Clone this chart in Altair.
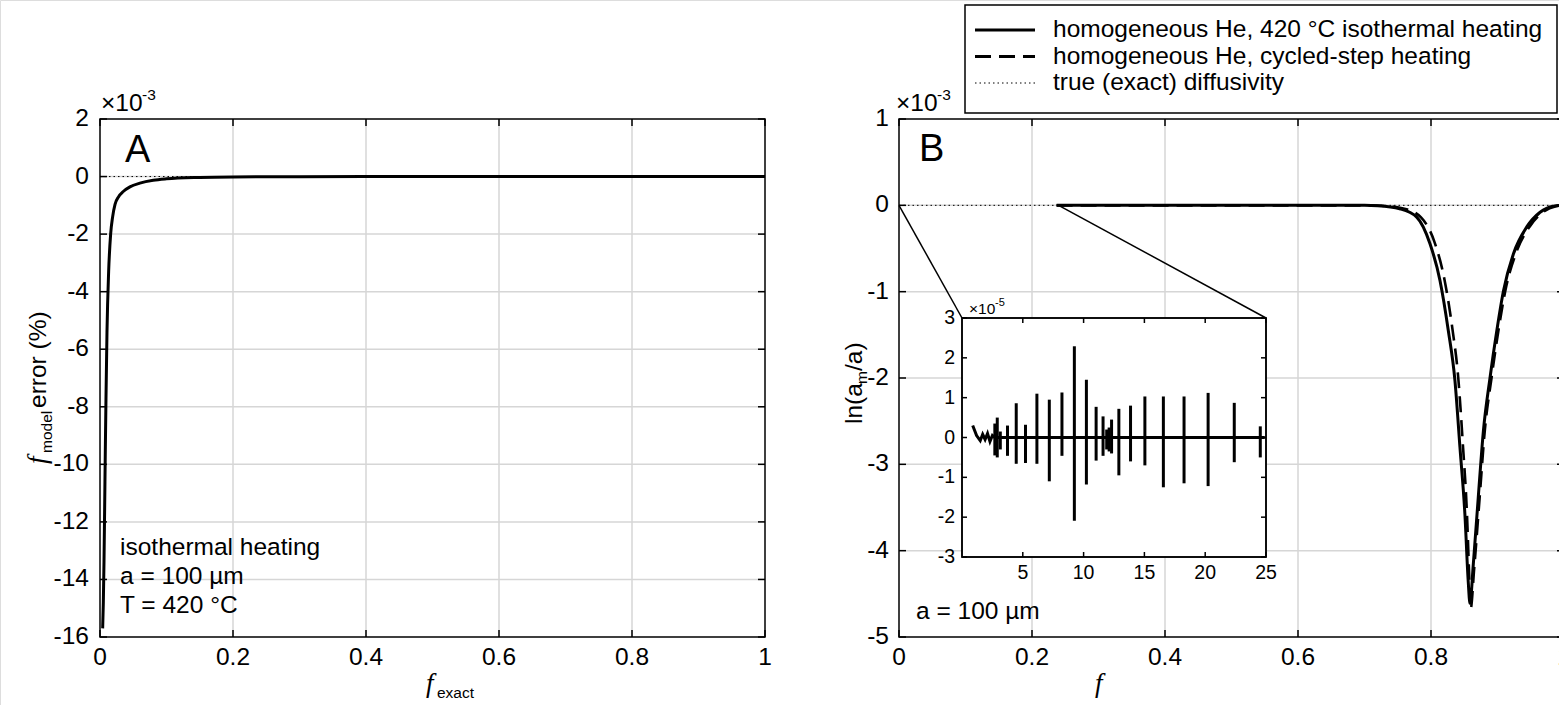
import altair as alt
import pandas as pd

W, H = 1559, 705
SANS = "Liberation Sans"
SERIF = "Liberation Serif"
GRID = "#d6d6d6"

# ---------------- data ----------------
# Panel A: f_model error (x1e-3 %) versus f_exact
a_fexact = [0.004, 0.005, 0.006, 0.007, 0.008, 0.009, 0.0105, 0.013, 0.016, 0.019,
            0.0226, 0.028, 0.035, 0.045, 0.06, 0.08, 0.10, 0.15, 0.20, 0.30, 0.50, 1.00]
a_error = [-15.7, -14.8, -13.4, -11.5, -9.5, -7.7, -5.4, -3.3, -2.0, -1.4,
           -0.97, -0.70, -0.52, -0.36, -0.23, -0.13, -0.08, -0.03, -0.012, -0.004, 0.0, 0.0]

# Panel B: ln(a_m/a) (x1e-3) versus f
b_iso_f = [0.237, 0.50, 0.70, 0.72, 0.753, 0.7785, 0.7985, 0.8135, 0.826, 0.836, 0.8436,
           0.851, 0.856, 0.8586, 0.8636, 0.871, 0.8787, 0.8887, 0.899, 0.909, 0.924,
           0.944, 0.964, 0.984, 1.0]
b_iso_y = [0, 0, 0, -0.005, -0.04, -0.136, -0.445, -0.87, -1.45, -2.03, -2.81,
           -3.58, -4.36, -4.61, -4.16, -3.39, -2.62, -2.0, -1.45, -0.99, -0.56,
           -0.25, -0.08, -0.01, 0.0]
b_cyc_f = [0.237, 0.50, 0.70, 0.725, 0.76, 0.785, 0.805, 0.82, 0.832, 0.841, 0.848,
           0.854, 0.8575, 0.8595, 0.865, 0.873, 0.881, 0.891, 0.902, 0.912, 0.928,
           0.948, 0.968, 0.988, 1.0]
b_cyc_y = [0, 0, 0, -0.005, -0.04, -0.14, -0.42, -0.85, -1.42, -2.0, -2.78,
           -3.56, -4.3, -4.68, -4.2, -3.4, -2.6, -2.0, -1.42, -0.98, -0.55,
           -0.25, -0.08, -0.01, 0.0]
b_zoom_end = 0.24

# Inset: x1e-5, baseline trace and spikes
in_x = [0.88, 1.2, 1.5, 1.7, 1.9, 2.1, 2.3, 2.5, 2.7, 24.9]
in_y = [0.30, 0.05, -0.08, 0.08, -0.05, 0.10, -0.10, 0.05, 0.0, 0.0]
spike_x = [2.7, 2.9, 3.15, 3.74, 4.46, 5.22, 6.16, 7.18, 8.22, 9.24, 10.23, 11.03,
           11.6, 11.9, 12.1, 12.3, 12.9, 13.86, 15.04, 16.56, 18.26, 20.24, 22.39, 24.53]
spike_top = [0.35, 0.50, 0.15, 0.30, 0.86, 0.32, 1.10, 0.95, 1.13, 2.29, 1.45, 0.77,
             0.53, 0.20, 0.25, 0.45, 0.72, 0.80, 1.03, 1.03, 1.03, 1.12, 0.87, 0.28]
spike_bot = [-0.45, -0.50, -0.30, -0.46, -0.66, -0.64, -0.66, -1.10, -0.46, -2.09, -1.18, -0.58,
             -0.46, -0.30, -0.35, -0.40, -0.95, -0.60, -0.70, -1.25, -1.15, -1.22, -0.62, -0.50]

# ticks and tick labels
a_xticks = [0, 0.2, 0.4, 0.6, 0.8, 1]
a_yticks = [-16, -14, -12, -10, -8, -6, -4, -2, 0, 2]
b_xticks = [0, 0.2, 0.4, 0.6, 0.8, 1]
b_yticks = [-5, -4, -3, -2, -1, 0, 1]
in_xticks = [5, 10, 15, 20, 25]
in_yticks = [-3, -2, -1, 0, 1, 2, 3]

DASH = [16, 8]
legend_labels = ["homogeneous He, 420 °C isothermal heating",
                 "homogeneous He, cycled-step heating",
                 "true (exact) diffusivity"]
legend_dash = [[1, 0], DASH, [1.5, 3]]
legend_width = [2.8, 2.8, 1.0]
a_notes = ["isothermal heating", "a = 100 µm", "T = 420 °C"]
b_note = "a = 100 µm"

# ---------------- layout (pixels) ----------------
FS = 24.5
PA = dict(x0=100, x1=765, y0=637, y1=119, xdom=[0, 1], ydom=[-16, 2],
          xt=a_xticks, yt=a_yticks, fs=FS, tick=7, lpx=9, lpy=11)
PB = dict(x0=899, x1=1564, y0=637, y1=119, xdom=[0, 1], ydom=[-5, 1],
          xt=b_xticks, yt=b_yticks, fs=FS, tick=7, lpx=9, lpy=10)
PI = dict(x0=962, x1=1266, y0=557, y1=318, xdom=[0, 25], ydom=[-3, 3],
          xt=in_xticks, yt=in_yticks, fs=19.5, tick=5, lpx=7, lpy=7)


def sx(p):
    return alt.Scale(domain=p["xdom"], range=[p["x0"], p["x1"]], nice=False, zero=False)


def sy(p):
    return alt.Scale(domain=p["ydom"], range=[p["y0"], p["y1"]], nice=False, zero=False)


def ex(p, f):
    return alt.X(f, type="quantitative", scale=sx(p), axis=None)


def ey(p, f):
    return alt.Y(f, type="quantitative", scale=sy(p), axis=None)


def dx(p, v):
    return alt.XDatum(v, type="quantitative", scale=sx(p), axis=None)


def dy(p, v):
    return alt.YDatum(v, type="quantitative", scale=sy(p), axis=None)


def one():
    return alt.Data(values=[{}])


def frame(p, fill=None, grid=True):
    x0, x1 = p["xdom"]
    y0, y1 = p["ydom"]
    L = []
    if fill:
        L.append(alt.Chart(one()).mark_rect(fill=fill, stroke="black", strokeWidth=1.5)
                 .encode(x=dx(p, x0), x2=alt.datum(x1), y=dy(p, y0), y2=alt.datum(y1)))
    if grid:
        gx = [v for v in p["xt"] if x0 < v < x1]
        gy = [v for v in p["yt"] if y0 < v < y1]
        L.append(alt.Chart(pd.DataFrame({"v": gx})).mark_rule(color=GRID, strokeWidth=1.5)
                 .encode(x=ex(p, "v"), y=dy(p, y0), y2=alt.datum(y1)))
        L.append(alt.Chart(pd.DataFrame({"v": gy})).mark_rule(color=GRID, strokeWidth=1.5)
                 .encode(y=ey(p, "v"), x=dx(p, x0), x2=alt.datum(x1)))
    t = p["tick"]
    dfx = pd.DataFrame({"v": p["xt"], "lab": [f"{v:g}" for v in p["xt"]]})
    dfy = pd.DataFrame({"v": p["yt"], "lab": [f"{v:g}" for v in p["yt"]]})
    # inward ticks on all four sides
    L.append(alt.Chart(dfx).mark_rule(color="black", strokeWidth=1.5, y2Offset=-t)
             .encode(x=ex(p, "v"), y=dy(p, y0), y2=alt.datum(y0)))
    L.append(alt.Chart(dfx).mark_rule(color="black", strokeWidth=1.5, y2Offset=t)
             .encode(x=ex(p, "v"), y=dy(p, y1), y2=alt.datum(y1)))
    L.append(alt.Chart(dfy).mark_rule(color="black", strokeWidth=1.5, x2Offset=t)
             .encode(y=ey(p, "v"), x=dx(p, x0), x2=alt.datum(x0)))
    L.append(alt.Chart(dfy).mark_rule(color="black", strokeWidth=1.5, x2Offset=-t)
             .encode(y=ey(p, "v"), x=dx(p, x1), x2=alt.datum(x1)))
    # tick labels placed through the panel scales
    L.append(alt.Chart(dfx).mark_text(font=SANS, fontSize=p["fs"], color="black", align="center",
                                      baseline="top", dy=p["lpx"])
             .encode(x=ex(p, "v"), y=dy(p, y0), text="lab:N"))
    L.append(alt.Chart(dfy).mark_text(font=SANS, fontSize=p["fs"], color="black", align="right",
                                      baseline="middle", dx=-p["lpy"])
             .encode(x=dx(p, x0), y=ey(p, "v"), text="lab:N"))
    return L


def border(p):
    x0, x1 = p["xdom"]
    y0, y1 = p["ydom"]
    return alt.Chart(one()).mark_rect(fillOpacity=0, stroke="black", strokeWidth=1.5) \
        .encode(x=dx(p, x0), x2=alt.datum(x1), y=dy(p, y0), y2=alt.datum(y1))


def zero_dotted(p):
    x0, x1 = p["xdom"]
    return alt.Chart(one()).mark_rule(color="black", strokeWidth=1.0, strokeDash=[1.5, 3]) \
        .encode(x=dx(p, x0), x2=alt.datum(x1), y=dy(p, 0))


def txt(s, x, y, size, font=SANS, style="normal", angle=0, align="left", baseline="alphabetic"):
    return alt.Chart(one()).mark_text(
        text=s, font=font, fontSize=size, fontStyle=style, angle=angle,
        align=align, baseline=baseline, color="black").encode(x=alt.value(x), y=alt.value(y))


# ---------------- panel A ----------------
dfa = pd.DataFrame({"f": a_fexact, "e": a_error})
panel_a = alt.layer(
    *frame(PA),
    zero_dotted(PA),
    alt.Chart(dfa).mark_line(color="black", strokeWidth=3, interpolate="monotone")
    .encode(x=ex(PA, "f"), y=ey(PA, "e")),
    border(PA),
)

# ---------------- panel B ----------------
dfb_iso = pd.DataFrame({"f": b_iso_f, "y": b_iso_y})
dfb_cyc = pd.DataFrame({"f": b_cyc_f, "y": b_cyc_y})
panel_b = alt.layer(
    *frame(PB),
    zero_dotted(PB),
    alt.Chart(dfb_cyc).mark_line(color="black", strokeWidth=2.6, strokeDash=DASH, interpolate="monotone")
    .encode(x=ex(PB, "f"), y=ey(PB, "y")),
    alt.Chart(dfb_iso).mark_line(color="black", strokeWidth=3, interpolate="monotone")
    .encode(x=ex(PB, "f"), y=ey(PB, "y")),
    alt.Chart(one()).mark_rule(color="black", strokeWidth=1.5)
    .encode(x=dx(PB, 0), y=dy(PB, 0), x2=alt.value(PI["x0"]), y2=alt.value(PI["y1"])),
    alt.Chart(one()).mark_rule(color="black", strokeWidth=1.5)
    .encode(x=dx(PB, b_zoom_end), y=dy(PB, 0), x2=alt.value(PI["x1"]), y2=alt.value(PI["y1"])),
    border(PB),
)

# ---------------- inset ----------------
dfi = pd.DataFrame({"x": in_x, "y": in_y})
dfs = pd.DataFrame({"x": spike_x, "t": spike_top, "b": spike_bot})
panel_i = alt.layer(
    *frame(PI, fill="white", grid=False),
    alt.Chart(dfs).mark_rule(color="black", strokeWidth=3)
    .encode(x=ex(PI, "x"), y=ey(PI, "t"), y2="b:Q"),
    alt.Chart(dfi).mark_line(color="black", strokeWidth=3)
    .encode(x=ex(PI, "x"), y=ey(PI, "y")),
    border(PI),
)

# ---------------- texts ----------------
texts = [
    txt("A", 125, 162, 38),
    txt("B", 919, 161, 38),
    # x10^-3 multipliers
    txt("×10", 101, 111, FS), txt("-3", 142, 100, 15.5),
    txt("×10", 896, 111, FS), txt("-3", 937, 100, 15.5),
    txt("×10", 969, 314, 15.5), txt("-5", 995, 306, 11),
    # annotations
    txt(a_notes[0], 120, 555, FS),
    txt(a_notes[1], 120, 584, FS),
    txt(a_notes[2], 120, 613, FS),
    txt(b_note, 916, 619, FS),
    # x titles
    txt("f", 426, 692, 27, font=SERIF, style="italic"),
    txt("exact", 437, 698, 15.5),
    txt("f", 1095, 692, 27, font=SERIF, style="italic"),
    # y title A (rotated)
    txt("f", 46, 464, 27, font=SERIF, style="italic", angle=270),
    txt("model", 52, 453, 15.5, angle=270),
    txt("error (%)", 46, 408, FS, angle=270),
    # y title B (rotated)
    txt("ln(a", 862, 424, FS, angle=270),
    txt("m", 867, 384, 15.5, angle=270),
    txt("/a)", 862, 371, FS, angle=270),
]

# ---------------- legend ----------------
LG_X0, LG_X1, LG_Y0, LG_Y1 = 965, 1557, 5, 113
legend = [alt.Chart(one()).mark_rect(fill="white", stroke="black", strokeWidth=1.5)
          .encode(x=alt.value(LG_X0), x2=alt.value(LG_X1), y=alt.value(LG_Y0), y2=alt.value(LG_Y1))]
for i, lab in enumerate(legend_labels):
    yy = 30 + i * 26.5
    legend.append(alt.Chart(one())
                  .mark_rule(color="black", strokeWidth=legend_width[i], strokeDash=legend_dash[i])
                  .encode(x=alt.value(975), x2=alt.value(1035), y=alt.value(yy)))
    legend.append(txt(lab, 1053, yy, FS, baseline="middle"))

chart = alt.layer(panel_a, panel_b, panel_i, *texts, *legend).resolve_scale(
    x="independent", y="independent"
).properties(
    width=W, height=H, autosize=alt.AutoSizeParams(type="none"), padding=0
).configure_view(stroke=None).configure(background="white")

chart.save("out.html", embed_options={"renderer": "svg", "actions": False})
